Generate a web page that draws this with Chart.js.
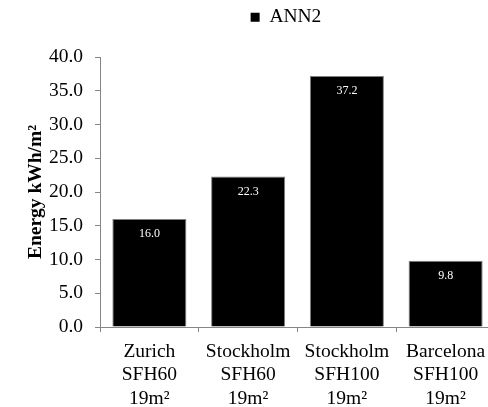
<!DOCTYPE html>
<html>
<head>
<meta charset="utf-8">
<script src="https://cdn.jsdelivr.net/npm/chart.js@4/dist/chart.umd.min.js"></script>
<style>
  html, body { margin: 0; padding: 0; background: #fff; overflow: hidden; }
  #wrap { width: 495px; height: 407px; position: relative; }
</style>
</head>
<body>
<div id="wrap"><canvas id="chart"></canvas></div>
<script>
// Heat demand per climate / building case
const categories = [
  ['Zurich', 'SFH60', '19m²'],
  ['Stockholm', 'SFH60', '19m²'],
  ['Stockholm', 'SFH100', '19m²'],
  ['Barcelona', 'SFH100', '19m²']
];
const seriesName = 'ANN2';
const ann2Values = [16.0, 22.3, 37.2, 9.8];
const yTicks = [0, 5, 10, 15, 20, 25, 30, 35, 40];

const SERIF = "'Liberation Serif', 'Times New Roman', serif";
const AXIS_GREY = '#868686';

// White value labels inside the top of each bar
const barValueLabels = {
  id: 'barValueLabels',
  afterDatasetsDraw(chart) {
    const ctx = chart.ctx;
    const meta = chart.getDatasetMeta(0);
    const data = chart.data.datasets[0].data;
    ctx.save();
    ctx.fillStyle = '#ffffff';
    ctx.font = '12px ' + SERIF;
    ctx.textAlign = 'center';
    ctx.textBaseline = 'middle';
    meta.data.forEach((bar, i) => {
      ctx.fillText(Number(data[i]).toFixed(1), bar.x, bar.y + 15);
    });
    ctx.restore();
  }
};

// Legend sits a little right of the canvas centre and close to the top edge
const legendPlacement = {
  id: 'legendPlacement',
  afterLayout(chart) {
    const lg = chart.legend;
    if (!lg) return;
    const dx = 28, dy = -20;
    lg.left += dx; lg.right += dx;
    lg.top += dy; lg.bottom += dy;
  }
};

new Chart(document.getElementById('chart'), {
  type: 'bar',
  data: {
    labels: categories,
    datasets: [{
      label: seriesName,
      data: ann2Values,
      backgroundColor: '#000000',
      borderColor: '#7f7f7f',
      borderWidth: 1,
      barPercentage: 0.75,
      categoryPercentage: 1.0
    }]
  },
  options: {
    responsive: true,
    maintainAspectRatio: false,
    animation: false,
    layout: { padding: { left: 21, right: 0, top: 23.5, bottom: 0 } },
    plugins: {
      legend: {
        position: 'top',
        align: 'center',
        labels: {
          color: '#000',
          boxWidth: 9,
          boxHeight: 9,
          padding: 4,
          font: { family: SERIF, size: 19.5 },
          generateLabels(chart) {
            const ds = chart.data.datasets[0];
            return [{
              text: ds.label,
              fillStyle: '#000',
              strokeStyle: '#000',
              lineWidth: 0,
              datasetIndex: 0,
              hidden: false
            }];
          }
        }
      },
      tooltip: { enabled: false }
    },
    scales: {
      x: {
        grid: {
          display: true,
          drawOnChartArea: false,
          drawTicks: true,
          tickLength: 5,
          color: AXIS_GREY,
          offset: true
        },
        border: { display: true, color: AXIS_GREY, width: 1 },
        ticks: {
          color: '#000',
          padding: 8,
          maxRotation: 0,
          autoSkip: false,
          font: { family: SERIF, size: 19.5, lineHeight: 1.2 }
        },
        afterFit(scale) { scale.height = 80; }
      },
      y: {
        min: 0,
        max: 40,
        afterBuildTicks(scale) { scale.ticks = yTicks.map(v => ({ value: v })); },
        grid: {
          display: true,
          drawOnChartArea: false,
          drawTicks: true,
          tickLength: 5,
          color: AXIS_GREY
        },
        border: { display: true, color: AXIS_GREY, width: 1 },
        ticks: {
          color: '#000',
          padding: 12,
          font: { family: SERIF, size: 19.5 },
          callback: (v) => Number(v).toFixed(1)
        },
        title: {
          display: true,
          text: 'Energy kWh/m²',
          color: '#000',
          font: { family: SERIF, size: 19.5, weight: 'bold', lineHeight: 1.2 },
          padding: { top: 3, bottom: 0 }
        },
        afterFit(scale) { scale.width = 79; }
      }
    }
  },
  plugins: [barValueLabels, legendPlacement]
});
</script>
</body>
</html>
